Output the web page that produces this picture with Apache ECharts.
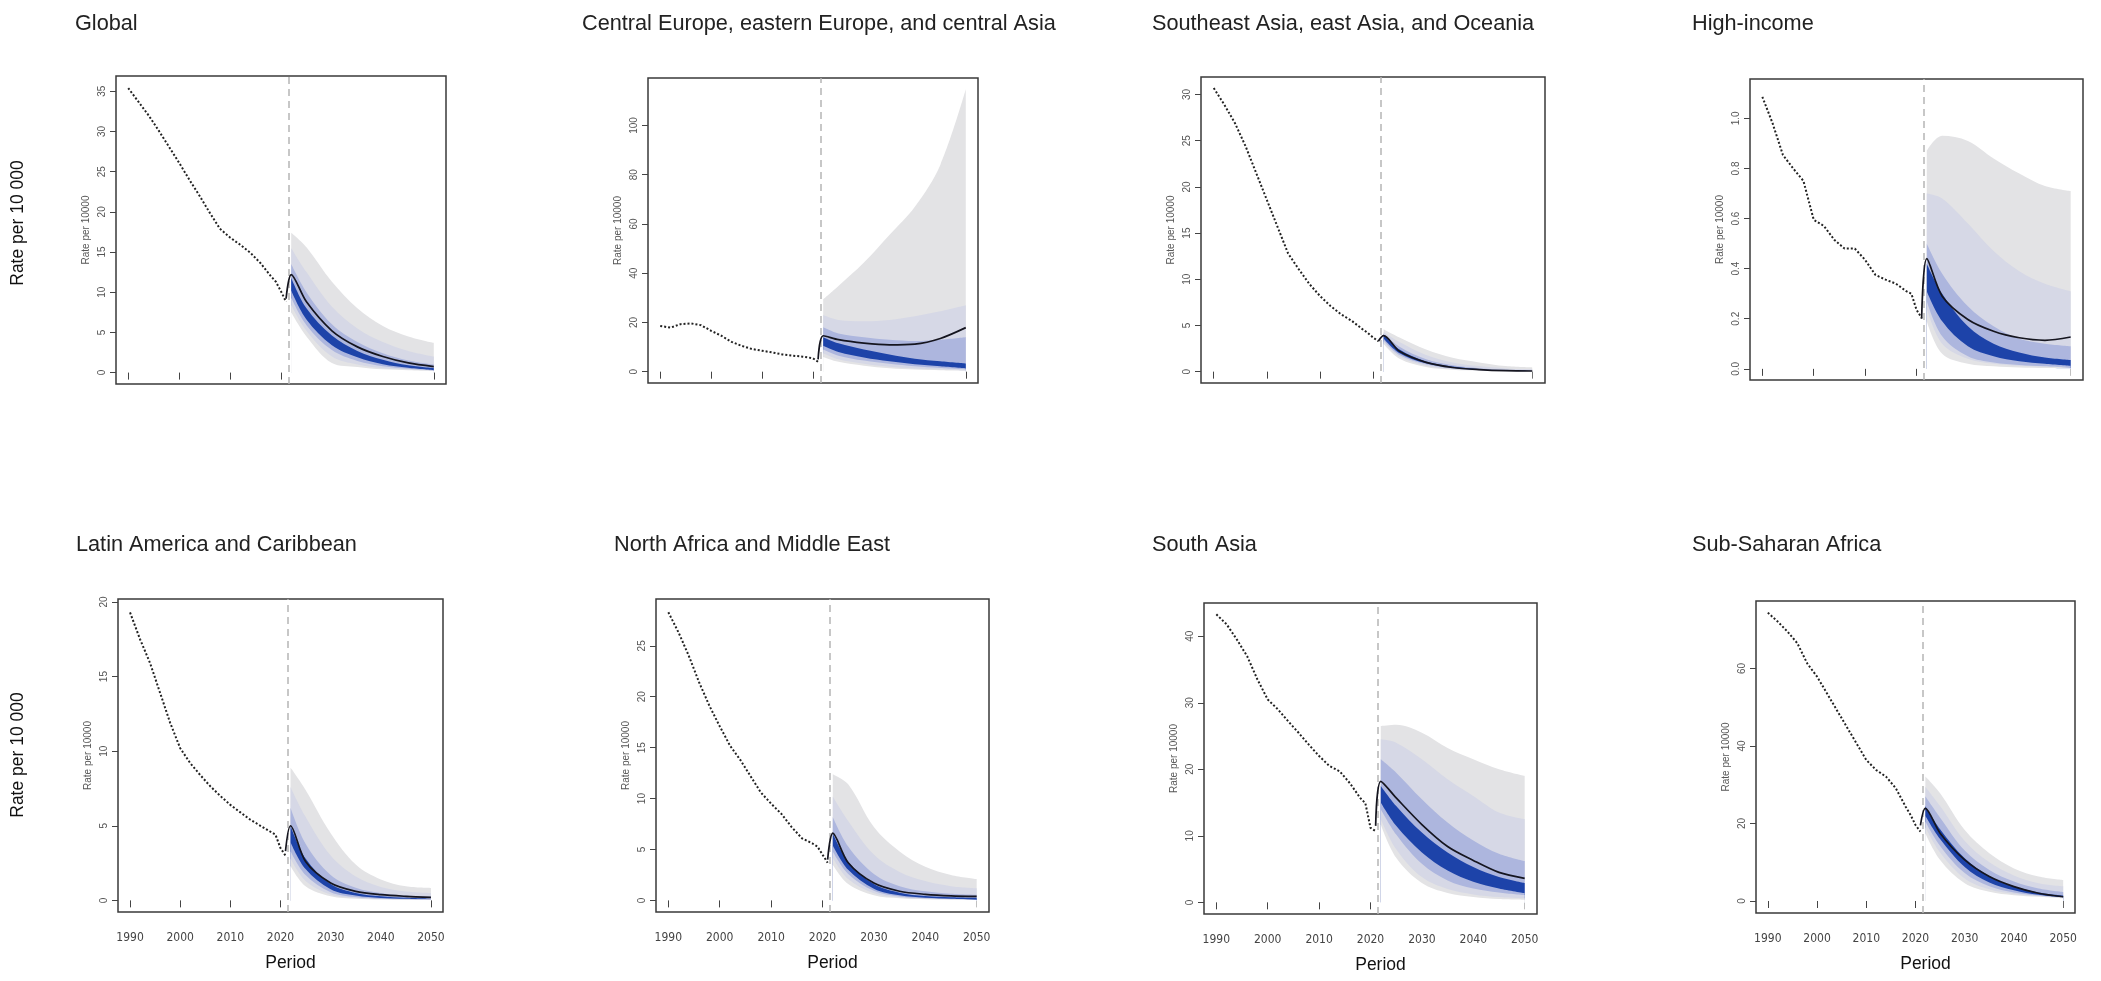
<!DOCTYPE html>
<html><head><meta charset="utf-8">
<script src="https://cdn.jsdelivr.net/npm/echarts@6/dist/echarts.min.js"></script>
<style>html,body{margin:0;padding:0;background:#fff}#c{width:2101px;height:981px}</style>
</head><body><div id="c"></div>
<script>
// ---------------- DATA ----------------
const regions = ['Global', 'Central Europe, eastern Europe, and central Asia', 'Southeast Asia, east Asia, and Oceania', 'High-income',
  'Latin America and Caribbean', 'North Africa and Middle East', 'South Asia', 'Sub-Saharan Africa'];
const xTicks = [1990, 2000, 2010, 2020, 2030, 2040, 2050];
const yTicks = [[0,5,10,15,20,25,30,35],[0,20,40,60,80,100],[0,5,10,15,20,25,30],[0,0.2,0.4,0.6,0.8,1.0],
  [0,5,10,15,20],[0,5,10,15,20,25],[0,10,20,30,40],[0,20,40,60]];
const forecastStart = 2021.5;

const obsYears = [1990,1992,1994,1996,1998,2000,2002,2004,2006,2008,2010,2012,2014,2016,2018,2019,2020,2021];
const obsValues = [
  [35.4,33.7,32.0,30.1,28.1,26.1,24.0,22.0,19.9,17.9,16.8,15.9,14.9,13.6,12.0,11.3,10.1,8.8],
  [18.6,17.9,19.3,19.6,18.9,16.6,14.6,12.1,10.5,9.2,8.5,7.8,7.0,6.5,6.1,5.8,5.4,4.0],
  [30.7,28.9,26.9,24.4,21.5,18.6,15.7,12.8,11.1,9.5,8.2,7.1,6.2,5.5,4.6,4.2,3.7,3.3],
  [1.086,0.98,0.854,0.80,0.75,0.595,0.57,0.515,0.48,0.48,0.435,0.375,0.356,0.34,0.31,0.30,0.236,0.203],
  [19.3,17.5,15.9,13.9,11.9,10.2,9.2,8.4,7.65,7.0,6.4,5.9,5.4,5.0,4.6,4.4,3.5,3.0],
  [28.3,26.3,24.0,21.4,19.1,17.1,15.2,13.8,12.2,10.6,9.5,8.5,7.2,6.1,5.6,5.3,4.5,3.7],
  [43.3,41.8,39.5,37.0,33.5,30.5,29.0,27.2,25.5,23.7,22.0,20.5,19.7,17.9,15.7,14.9,11.2,10.7],
  [74.4,72.1,69.5,66.5,61.3,57.9,53.6,49.3,45.0,40.7,36.4,33.8,32.1,29.1,24.3,22.2,19.6,17.9]
];

const meanYears = [2021,2022,2025,2030,2035,2040,2045,2050];
const meanValues = [
  [9.2,12.2,8.8,5.2,3.2,2.0,1.2,0.75],
  [5.0,14.6,13.0,11.6,10.9,11.2,13.5,17.9],
  [3.3,3.9,2.2,1.0,0.45,0.22,0.1,0.07],
  [0.2,0.44,0.29,0.197,0.15,0.124,0.114,0.127],
  [3.3,5.0,2.6,1.16,0.6,0.38,0.27,0.2],
  [4.0,6.6,3.7,1.7,0.9,0.6,0.45,0.4],
  [11.5,18.2,15.7,11.7,8.4,6.3,4.5,3.6],
  [19.5,23.9,17.5,10.6,6.3,3.7,2.0,1.1]
];

const fanYears = [2022,2025,2030,2035,2040,2045,2050];
const fanOuterHigh = [
  [17.4,15.6,11.3,8.0,5.8,4.5,3.7],
  [29.4,34.8,44.3,55.5,67.0,84.0,114.7],
  [4.6,3.7,2.4,1.5,1.0,0.6,0.45],
  [0.87,0.93,0.91,0.84,0.78,0.73,0.71],
  [8.9,7.4,4.5,2.4,1.4,0.94,0.83],
  [12.4,11.4,7.2,4.8,3.3,2.5,2.1],
  [26.5,26.7,25.5,23.2,21.5,20.0,19.0],
  [32.1,27.8,18.3,12.3,8.4,6.3,5.4]
];
const fanOuterLow = [
  [7.5,4.5,1.2,0.7,0.4,0.3,0.2],
  [6.0,4.0,2.4,1.4,0.9,0.6,0.4],
  [3.0,1.4,0.5,0.2,0.1,0.05,0.02],
  [0.19,0.06,0.02,0.01,0.005,0.003,0.002],
  [2.3,0.94,0.27,0.1,0.05,0.03,0.02],
  [3.5,1.6,0.5,0.2,0.1,0.06,0.04],
  [11.7,6.7,2.9,1.4,0.8,0.5,0.4],
  [17.5,10.6,4.6,2.4,1.5,1.1,0.7]
];
const fanWideHigh = [
  [15.5,12.5,8.2,5.5,3.8,2.7,2.0],
  [23.0,21.0,20.5,21.0,22.5,24.5,27.0],
  [4.3,3.2,1.8,1.0,0.6,0.35,0.25],
  [0.70,0.68,0.58,0.47,0.39,0.34,0.31],
  [7.6,5.6,3.0,1.6,0.9,0.6,0.5],
  [10.2,7.8,4.5,2.8,1.9,1.4,1.2],
  [24.5,24.0,21.5,18.5,16.0,13.5,12.5],
  [29.5,24.5,15.5,10.0,6.6,4.6,3.8]
];
const fanWideLow = [
  [8.4,5.2,2.0,1.0,0.55,0.38,0.22],
  [7.5,5.0,3.2,2.0,1.3,0.9,0.7],
  [3.2,1.6,0.65,0.28,0.12,0.06,0.03],
  [0.24,0.10,0.04,0.02,0.012,0.008,0.006],
  [2.8,1.3,0.4,0.16,0.08,0.05,0.03],
  [4.2,2.1,0.7,0.28,0.14,0.08,0.05],
  [12.5,8.0,3.8,2.0,1.2,0.8,0.6],
  [19.0,12.5,5.8,3.0,1.8,1.2,0.8]
];
const fanMidHigh = [
  [13.5,10.0,6.0,3.8,2.4,1.5,1.0],
  [18.0,15.5,14.0,13.0,12.5,13.0,14.0],
  [4.1,2.7,1.35,0.7,0.38,0.2,0.13],
  [0.50,0.38,0.25,0.17,0.12,0.10,0.09],
  [6.2,3.8,1.7,0.85,0.5,0.32,0.25],
  [8.2,5.3,2.6,1.4,0.9,0.65,0.55],
  [21.5,19.5,15.5,12.0,9.3,7.3,6.2],
  [27.0,21.5,13.0,8.0,5.0,3.2,2.3]
];
const fanMidLow = [
  [9.3,5.9,2.8,1.45,0.8,0.48,0.27],
  [9.0,6.5,4.5,3.2,2.2,1.5,1.0],
  [3.4,1.8,0.8,0.35,0.16,0.08,0.04],
  [0.27,0.13,0.05,0.025,0.015,0.01,0.007],
  [3.3,1.7,0.55,0.22,0.11,0.07,0.04],
  [4.8,2.6,0.95,0.38,0.2,0.12,0.08],
  [14.0,10.2,5.8,3.3,2.1,1.5,1.1],
  [20.5,14.2,7.2,3.8,2.2,1.4,0.9]
];
const fanCoreHigh = [
  [11.8,8.0,4.6,2.7,1.6,0.9,0.55],
  [14.0,11.5,9.0,7.0,5.3,4.2,3.3],
  [4.0,2.4,1.1,0.55,0.27,0.14,0.09],
  [0.42,0.30,0.17,0.10,0.065,0.045,0.035],
  [5.0,2.8,1.1,0.5,0.27,0.17,0.12],
  [6.6,3.8,1.6,0.75,0.42,0.3,0.24],
  [17.5,14.5,10.5,7.5,5.3,3.8,2.9],
  [24.5,18.5,11.0,6.4,3.8,2.2,1.4]
];
const fanCoreLow = [
  [10.2,6.6,3.4,1.9,1.05,0.6,0.32],
  [10.5,8.0,5.8,4.2,3.0,2.2,1.4],
  [3.6,2.0,0.9,0.42,0.2,0.1,0.05],
  [0.31,0.19,0.09,0.05,0.03,0.02,0.012],
  [3.9,2.1,0.75,0.32,0.16,0.1,0.06],
  [5.4,3.0,1.15,0.5,0.26,0.16,0.1],
  [15.0,11.5,7.5,4.8,3.1,2.1,1.4],
  [22.0,16.0,8.8,4.8,2.8,1.6,0.9]
];

// ---------------- LAYOUT ----------------
const boxes = [[116,76,330,308],[648,78,330,305],[1201,77,344,306],[1750,79,333,301],
  [118,599,325,313],[656,599,333,313],[1204,603,333,311],[1756,601,319,312]];
const yRanges = [[-1.42,36.9],[-4.6,119.3],[-1.23,31.9],[-0.0445,1.157],[-0.78,20.2],[-1.14,29.6],[-1.75,45.0],[-3.1,77.4]];
const titlePos = [[75,13],[582,13],[1152,13],[1692,13],[76,534],[614,534],[1152,534],[1692,534]];
const bandColors = ['#e3e3e5','#d6d8e6','#adb6de','#1d43a9'];
const FONT = '"Liberation Sans", Arial, Helvetica, sans-serif';
const NARROW = '"Liberation Sans Narrow", "Arial Narrow", "DejaVu Sans Condensed", sans-serif';

const grids = [], xAxes = [], yAxes = [], series = [], titles = [];
regions.forEach((name, i) => {
  const b = boxes[i];
  grids.push({left:b[0], top:b[1], width:b[2], height:b[3], show:true, borderColor:'#3a3a3a', borderWidth:1.5});
  titles.push({text:name, left:titlePos[i][0], top:titlePos[i][1], padding:0,
    textStyle:{fontSize:21.7, fontWeight:'normal', color:'#222', fontFamily:FONT}});
  xAxes.push({gridIndex:i, type:'value', min:1987.6, max:2052.4,
    axisLine:{show:false}, splitLine:{show:false},
    axisTick:{show:true, length:7, customValues:xTicks, lineStyle:{color:'#444', width:1}},
    axisLabel:{show:i>=4, customValues:xTicks, margin:20, fontSize:12, color:'#444', fontFamily:NARROW,
      formatter: v => String(v)},
    name:i>=4 ? 'Period' : '', nameLocation:'middle', nameGap:42,
    nameTextStyle:{fontSize:17.5, color:'#111', fontFamily:FONT, padding:[0,0,0,20]}});
  yAxes.push({gridIndex:i, type:'value', min:yRanges[i][0], max:yRanges[i][1],
    axisLine:{show:false}, splitLine:{show:false},
    axisTick:{show:true, length:6, customValues:yTicks[i], lineStyle:{color:'#444', width:1}},
    axisLabel:{customValues:yTicks[i], rotate:90, margin:9, fontSize:10, color:'#555', fontFamily:FONT,
      formatter: v => i === 3 ? v.toFixed(1) : String(v)},
    name:'Rate per 10000', nameLocation:'middle', nameRotate:90, nameGap:25,
    nameTextStyle:{fontSize:10, color:'#555', fontFamily:FONT}});

  // Fan: painted in layers (upper edges outer→inner, then lower edges inner→outer), each filled downwards
  const layers = [
    [fanOuterHigh, bandColors[0]], [fanWideHigh, bandColors[1]], [fanMidHigh, bandColors[2]], [fanCoreHigh, bandColors[3]],
    [fanCoreLow, bandColors[2]], [fanMidLow, bandColors[1]], [fanWideLow, bandColors[0]], [fanOuterLow, '#ffffff']
  ];
  layers.forEach((ly, k) => {
    const last = k === layers.length - 1;
    series.push({type:'line', xAxisIndex:i, yAxisIndex:i, silent:true, symbol:'none', smooth:0.35,
      lineStyle:{width:0, opacity:0},
      areaStyle:{color:ly[1], opacity:1, origin: last ? yRanges[i][0] * 0.7 : 0},
      data:fanYears.map((y, j) => [y, ly[0][i][j]]), z:2 + k});
  });
  series.push({type:'line', xAxisIndex:i, yAxisIndex:i, silent:true, symbol:'none', smooth:0.3,
    lineStyle:{color:'#15151f', width:1.7}, data:meanYears.map((y, j) => [y, meanValues[i][j]]), z:12});
  series.push({type:'line', xAxisIndex:i, yAxisIndex:i, silent:true, symbol:'none',
    lineStyle:{color:'#222', width:2, type:[2,2]}, data:obsYears.map((y, j) => [y, obsValues[i][j]]), z:12,
    markLine:{silent:true, symbol:['none','none'], label:{show:false},
      lineStyle:{color:'#b5b5b5', type:[7,5], width:1.5}, data:[{xAxis:forecastStart}]}});
});

const chart = echarts.init(document.getElementById('c'));
chart.setOption({
  animation:false,
  backgroundColor:'#fff',
  title:titles,
  grid:grids, xAxis:xAxes, yAxis:yAxes, series:series,
  graphic:[
    {type:'text', x:18, y:223, rotation:Math.PI/2, style:{text:'Rate per 10 000', fontSize:17.5, fill:'#111', fontFamily:FONT, align:'center', verticalAlign:'middle'}},
    {type:'text', x:18, y:755, rotation:Math.PI/2, style:{text:'Rate per 10 000', fontSize:17.5, fill:'#111', fontFamily:FONT, align:'center', verticalAlign:'middle'}}
  ]
});
</script></body></html>
